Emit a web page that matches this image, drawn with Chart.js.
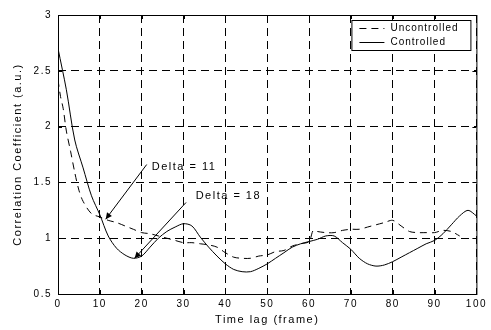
<!DOCTYPE html>
<html>
<head>
<meta charset="utf-8">
<script src="https://cdn.jsdelivr.net/npm/chart.js@4.4.1/dist/chart.umd.min.js"></script>
<style>
  html, body { margin: 0; padding: 0; background: #fff; }
  #wrap { width: 491px; height: 330px; }
</style>
</head>
<body>
<div id="wrap"><canvas id="corrChart" width="491" height="330"></canvas></div>
<script>
// time lag (frames) and correlation values
const lagControlled = [0, 2, 4, 6, 8, 10, 12, 14, 16, 18, 20, 22, 24, 26, 28, 30, 32, 34, 36, 38, 40,
  42, 44, 46, 48, 50, 52, 54, 56, 58, 60, 62, 64, 66, 68, 70, 72, 74, 76, 78, 80,
  82, 84, 86, 88, 90, 92, 94, 96, 98, 100];
const controlled = [2.70, 2.33, 1.88, 1.63, 1.38, 1.21, 1.02, 0.91, 0.85, 0.82, 0.84, 0.92, 1.00, 1.06, 1.10, 1.13, 1.11, 1.01, 0.92, 0.84, 0.77,
  0.72, 0.70, 0.70, 0.73, 0.77, 0.82, 0.87, 0.92, 0.95, 0.97, 0.99, 1.02, 1.02, 0.96, 0.90, 0.82, 0.77, 0.75, 0.76, 0.79,
  0.83, 0.87, 0.91, 0.95, 0.98, 1.04, 1.12, 1.20, 1.25, 1.20];

const lagUncontrolled = [0, 0.6, 1.25, 2, 3, 4, 5, 6, 8, 10, 12, 14, 16, 18, 20, 22, 24, 26, 28, 30, 32, 34, 36, 38, 40,
  42, 44, 46, 48, 50, 52, 54, 56, 58, 60, 61, 62, 64, 66, 68, 70, 72, 74, 76, 78, 80,
  82, 84, 86, 88, 90, 92, 94, 96];
const uncontrolled = [2.42, 2.27, 2.16, 1.96, 1.78, 1.59, 1.43, 1.33, 1.22, 1.19, 1.16, 1.14, 1.11, 1.08, 1.05, 1.04, 1.02, 1.00, 0.98, 0.96, 0.96, 0.95, 0.94, 0.92, 0.87,
  0.83, 0.82, 0.82, 0.84, 0.85, 0.88, 0.89, 0.93, 0.95, 0.97, 1.07, 1.06, 1.05, 1.05, 1.07, 1.08, 1.08, 1.10, 1.12, 1.14, 1.16,
  1.11, 1.06, 1.05, 1.05, 1.05, 1.07, 1.06, 1.02];

const xTicks = [0, 10, 20, 30, 40, 50, 60, 70, 80, 90, 100];
const yTicks = [0.5, 1, 1.5, 2, 2.5, 3];

// annotation text + arrow (data coordinates)
const notes = [
  { text: 'Delta = 11', tx: 22.4, ty: 1.64, fromX: 21.2, fromY: 1.66, toX: 11.4, toY: 1.17 },
  { text: 'Delta = 18', tx: 32.9, ty: 1.375, fromX: 30.6, fromY: 1.32, toX: 18.3, toY: 0.82 }
];

const FONT = '"Liberation Sans", Arial, sans-serif';

// the original figure uses a wide bitmap font, so space the letters out a bit
const spacing = {
  id: 'spacing',
  beforeLayout(chart) { chart.ctx.letterSpacing = '1.5px'; },
  beforeDraw(chart) { chart.ctx.letterSpacing = '1.5px'; }
};

const frameAndNotes = {
  id: 'frameAndNotes',
  afterDatasetsDraw(chart) {
    const { ctx, chartArea: a, scales: { x, y } } = chart;
    ctx.save();
    ctx.strokeStyle = '#000';
    ctx.fillStyle = '#000';
    ctx.lineWidth = 1;
    ctx.setLineDash([]);
    // box
    ctx.strokeRect(a.left + 0.5, a.top + 0.5, a.right - a.left, a.bottom - a.top);
    // inward ticks
    ctx.beginPath();
    xTicks.forEach(v => {
      const px = Math.round(x.getPixelForValue(v)) + 0.5;
      ctx.moveTo(px, a.bottom); ctx.lineTo(px, a.bottom - 4);
      ctx.moveTo(px, a.top); ctx.lineTo(px, a.top + 4);
    });
    yTicks.forEach(v => {
      const py = Math.round(y.getPixelForValue(v)) + 0.5;
      ctx.moveTo(a.left, py); ctx.lineTo(a.left + 4, py);
      ctx.moveTo(a.right, py); ctx.lineTo(a.right - 4, py);
    });
    ctx.stroke();

    // annotations
    ctx.font = '11px ' + FONT;
    ctx.letterSpacing = '1.5px';
    ctx.textBaseline = 'middle';
    notes.forEach(n => {
      const x1 = x.getPixelForValue(n.fromX), y1 = y.getPixelForValue(n.fromY);
      const x2 = x.getPixelForValue(n.toX), y2 = y.getPixelForValue(n.toY);
      ctx.beginPath();
      ctx.moveTo(x1, y1); ctx.lineTo(x2, y2);
      ctx.stroke();
      const ang = Math.atan2(y2 - y1, x2 - x1);
      ctx.beginPath();
      ctx.moveTo(x2, y2);
      ctx.lineTo(x2 - 7 * Math.cos(ang - 0.45), y2 - 7 * Math.sin(ang - 0.45));
      ctx.lineTo(x2 - 7 * Math.cos(ang + 0.45), y2 - 7 * Math.sin(ang + 0.45));
      ctx.closePath();
      ctx.fill();
      ctx.fillText(n.text, x.getPixelForValue(n.tx), y.getPixelForValue(n.ty));
    });

    // legend box
    ctx.font = '10px ' + FONT;
    ctx.letterSpacing = '1px';
    const lx = a.right - 125, ly = a.top + 5, lw = 119, lh = 30;
    ctx.fillStyle = '#fff';
    ctx.fillRect(lx, ly, lw, lh);
    ctx.strokeRect(lx + 0.5, ly + 0.5, lw, lh);
    chart.data.datasets.forEach((ds, i) => {
      const rowY = ly + 8.5 + i * 14;
      ctx.setLineDash(ds.borderDash || []);
      ctx.beginPath();
      ctx.moveTo(lx + 8, rowY); ctx.lineTo(lx + 33, rowY);
      ctx.stroke();
      ctx.setLineDash([]);
      ctx.fillStyle = '#000';
      ctx.textAlign = 'left';
      ctx.fillText(ds.label, lx + 39, rowY);
    });
    ctx.restore();
  }
};

new Chart(document.getElementById('corrChart'), {
  type: 'line',
  data: {
    datasets: [
      {
        label: 'Uncontrolled',
        data: lagUncontrolled.map((t, i) => ({ x: t, y: uncontrolled[i] })),
        borderColor: '#000', borderWidth: 1, borderDash: [7, 5],
        pointRadius: 0, tension: 0.3, fill: false
      },
      {
        label: 'Controlled',
        data: lagControlled.map((t, i) => ({ x: t, y: controlled[i] })),
        borderColor: '#000', borderWidth: 1,
        pointRadius: 0, tension: 0.3, fill: false
      }
    ]
  },
  options: {
    responsive: false,
    animation: false,
    layout: { padding: { left: 0, right: 8, top: 15, bottom: 0 } },
    plugins: { legend: { display: false }, tooltip: { enabled: false } },
    scales: {
      x: {
        type: 'linear', min: 0, max: 100,
        afterBuildTicks: s => { s.ticks = xTicks.map(v => ({ value: v })); },
        afterFit: s => { s.height = 36; },
        grid: { color: '#000', lineWidth: 1, drawTicks: false },
        border: { display: false, dash: [8, 5] },
        ticks: { color: '#000', font: { family: FONT, size: 10 }, padding: 4, maxRotation: 0 },
        title: { display: true, text: 'Time lag (frame)', color: '#000', font: { family: FONT, size: 11 }, padding: { top: 0, bottom: 3 } }
      },
      y: {
        min: 0.5, max: 3,
        afterBuildTicks: s => { s.ticks = yTicks.map(v => ({ value: v })); },
        afterFit: s => { s.width = 58; },
        grid: { color: '#000', lineWidth: 1, drawTicks: false },
        border: { display: false, dash: [8, 5] },
        ticks: { color: '#000', font: { family: FONT, size: 10 }, padding: 6, callback: v => String(v) },
        title: { display: true, text: 'Correlation Coefficient (a.u.)', color: '#000', font: { family: FONT, size: 11 }, padding: { top: 11, bottom: 4 } }
      }
    }
  },
  plugins: [spacing, frameAndNotes]
});
</script>
</body>
</html>
